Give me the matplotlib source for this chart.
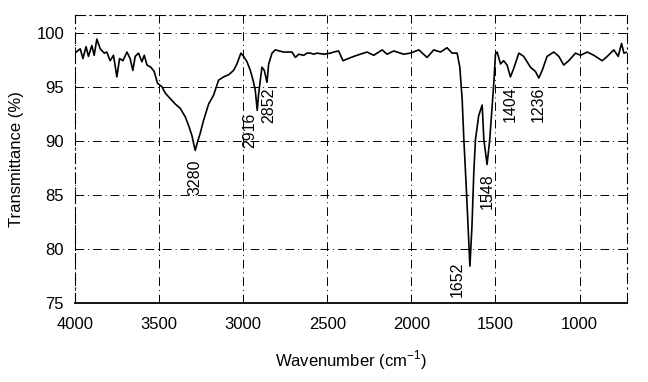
import numpy as np
import matplotlib
matplotlib.use('Agg')
import matplotlib.pyplot as plt

plt.rcParams['font.family'] = ['Liberation Sans', 'DejaVu Sans']
plt.rcParams['mathtext.fontset'] = 'custom'
plt.rcParams['mathtext.rm'] = 'Liberation Sans'

# spectrum (wavenumber in cm-1, transmittance in %)
wavenumber = [4000, 3994, 3970, 3954, 3935, 3921, 3901, 3887, 3871, 3851,
              3827, 3812, 3792, 3772, 3752, 3736, 3716, 3692, 3673, 3657,
              3643, 3623, 3603, 3589, 3573, 3550, 3530, 3510, 3484, 3464,
              3435, 3405, 3375, 3345, 3325, 3306, 3286, 3272, 3256, 3236,
              3206, 3177, 3147, 3117, 3087, 3058, 3038, 3014, 2998, 2978,
              2958, 2942, 2929, 2917, 2909, 2889, 2875, 2859, 2849, 2829,
              2810, 2760, 2710, 2690, 2670, 2640, 2621, 2600, 2580, 2562,
              2520, 2482, 2462, 2433, 2407, 2343, 2264, 2224, 2174, 2145,
              2105, 2046, 2006, 1956, 1907, 1867, 1827, 1788, 1758, 1728,
              1712, 1698, 1688, 1673, 1660, 1652, 1640, 1629, 1619, 1600,
              1579, 1569, 1550, 1534, 1510, 1500, 1490, 1470, 1451, 1431,
              1411, 1391, 1361, 1332, 1292, 1262, 1242, 1222, 1193, 1153,
              1123, 1094, 1064, 1024, 994, 954, 915, 865, 835, 796,
              770, 750, 736, 716]
transmittance = [98.2, 98.2, 98.5, 97.6, 98.7, 97.8, 98.8, 97.9, 99.4, 98.5,
                 98.1, 98.2, 97.4, 97.9, 95.9, 97.6, 97.4, 98.2, 97.6, 96.5,
                 97.8, 98.1, 97.3, 97.9, 97.0, 96.8, 96.4, 95.3, 95.0, 94.4,
                 93.9, 93.4, 93.0, 92.2, 91.4, 90.5, 89.1, 89.9, 90.7, 91.9,
                 93.4, 94.2, 95.6, 95.9, 96.1, 96.5, 97.1, 98.1, 97.8, 97.3,
                 96.5, 95.6, 94.7, 92.8, 94.3, 96.8, 96.5, 95.4, 97.1, 98.1,
                 98.4, 98.2, 98.2, 97.7, 98.0, 97.9, 98.1, 98.1, 98.0, 98.1,
                 98.0, 98.1, 98.2, 98.3, 97.4, 97.8, 98.2, 97.9, 98.4, 98.0,
                 98.3, 98.0, 98.1, 98.4, 97.7, 98.4, 98.2, 98.6, 98.1, 98.1,
                 96.8, 93.8, 90.1, 85.5, 81.0, 78.4, 82.0, 87.0, 90.1, 92.3,
                 93.3, 90.1, 87.8, 90.1, 95.3, 98.0, 98.2, 97.1, 97.4, 97.0,
                 95.9, 96.7, 98.1, 97.8, 96.8, 96.4, 95.8, 96.5, 97.8, 98.2,
                 97.8, 97.0, 97.4, 98.1, 97.9, 98.2, 97.9, 97.4, 97.8, 98.4,
                 97.8, 99.0, 98.1, 98.2]

# peak labels: text, x position, top of text
peak_labels = ['3280', '2916', '2852', '1652', '1548', '1404', '1236']
peak_x = [3286, 2962, 2849, 1728, 1550, 1415, 1248]
peak_y = [88.3, 92.6, 94.9, 78.8, 87.0, 95.0, 95.0]

fig = plt.figure(figsize=(6.48, 3.82), dpi=100)
ax = fig.add_axes([0.116, 0.207, 0.852, 0.753])

ax.plot(wavenumber, transmittance, color='black', lw=1.2)

for lab, x, y in zip(peak_labels, peak_x, peak_y):
    ax.text(x, y, lab, rotation=90, ha='center', va='top', fontsize=11.5)

ax.set_xlim(4000, 716)
ax.set_ylim(75, 101.6)
ax.set_xticks([4000, 3500, 3000, 2500, 2000, 1500, 1000])
ax.set_yticks([75, 80, 85, 90, 95, 100])
ax.tick_params(axis='both', length=0, labelsize=12)
ax.tick_params(axis='x', pad=10)
ax.tick_params(axis='y', pad=8)

dashdot = (0, (9, 4, 1, 4))
ax.grid(True, color='black', lw=0.7, linestyle=dashdot)
for side in ['top', 'left', 'right']:
    ax.spines[side].set_linestyle(dashdot)
    ax.spines[side].set_linewidth(0.8)
ax.spines['bottom'].set_linewidth(1.3)

ax.set_xlabel(r'Wavenumber (cm$^{-1}$)', fontsize=12, labelpad=12)
ax.set_ylabel('Transmittance (%)', fontsize=12, labelpad=9)

fig.savefig('out.png', dpi=100)
